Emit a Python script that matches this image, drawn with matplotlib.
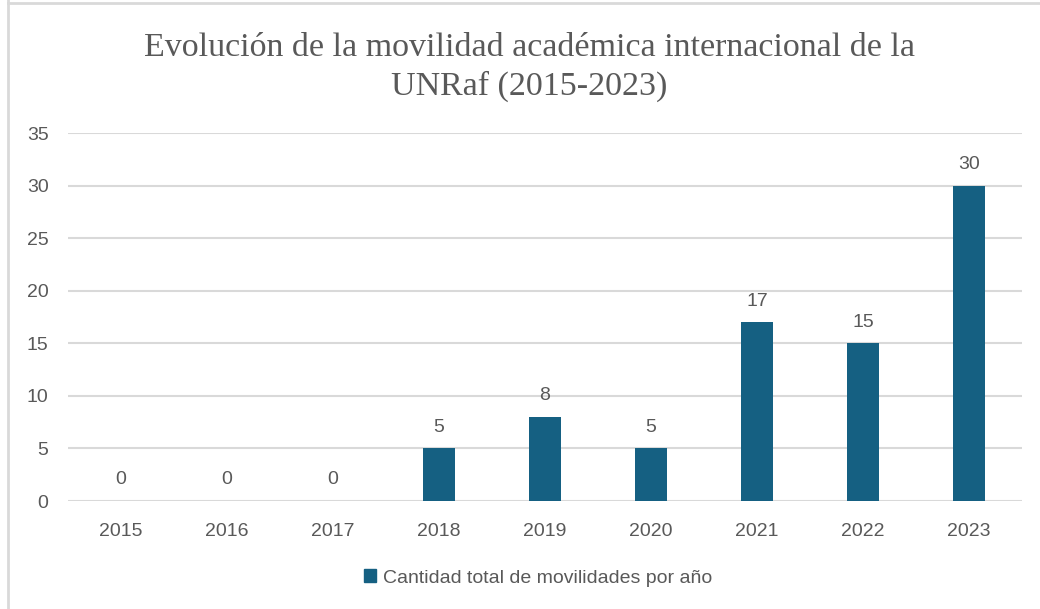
import matplotlib
matplotlib.use("Agg")
import matplotlib.pyplot as plt
from matplotlib.lines import Line2D
from matplotlib.patches import Patch

years = ["2015", "2016", "2017", "2018", "2019", "2020", "2021", "2022", "2023"]
values = [0, 0, 0, 5, 8, 5, 17, 15, 30]
yticks = [0, 5, 10, 15, 20, 25, 30, 35]
title = "Evolución de la movilidad académica internacional de la\nUNRaf (2015-2023)"
legend_label = "Cantidad total de movilidades por año"

bar_color = "#156082"
text_color = "#595959"
grid_color = "#d9d9d9"
sans = ["Liberation Sans", "DejaVu Sans"]

fig = plt.figure(figsize=(10.4, 6.09), dpi=100)
ax = fig.add_axes([68/1040, 1-501/609, 954/1040, 368/609])

x = list(range(len(years)))
ax.bar(x, values, width=0.31, color=bar_color, zorder=3)
for xi, v in zip(x, values):
    ax.annotate(str(v), (xi, v), xytext=(0, 9), textcoords="offset points",
                ha="center", va="bottom", fontsize=14, color=text_color, family=sans)

ax.set_xlim(-0.5, len(years) - 0.5)
ax.set_ylim(0, 35)
ax.set_yticks(yticks)
ax.set_xticks(x)
ax.set_xticklabels(years)
ax.grid(axis="y", color=grid_color, linewidth=1.5, zorder=0)
for s in ax.spines.values():
    s.set_visible(False)
ax.tick_params(length=0, labelsize=14, colors=text_color)
ax.tick_params(axis="x", pad=16)
ax.tick_params(axis="y", pad=14)
for lbl in ax.get_xticklabels() + ax.get_yticklabels():
    lbl.set_family(sans)

fig.text(529/1040, 1-67/609, title, ha="center", va="center", fontsize=24.5,
         color=text_color, family=["Liberation Serif"], linespacing=1.32)

leg = fig.legend(handles=[Patch(color=bar_color, label=legend_label)],
                 loc="center", bbox_to_anchor=(538/1040, 1-578/609), frameon=False,
                 prop={"family": sans, "size": 14}, handlelength=0.6, handleheight=0.6,
                 handletextpad=0.35, labelcolor=text_color)

fig.add_artist(Line2D([8/1040, 8/1040], [0, 1], transform=fig.transFigure, color="#d9d9d9", lw=2))
fig.add_artist(Line2D([8/1040, 1], [1-3/609, 1-3/609], transform=fig.transFigure, color="#d9d9d9", lw=2))

fig.savefig("out.png", dpi=100)
